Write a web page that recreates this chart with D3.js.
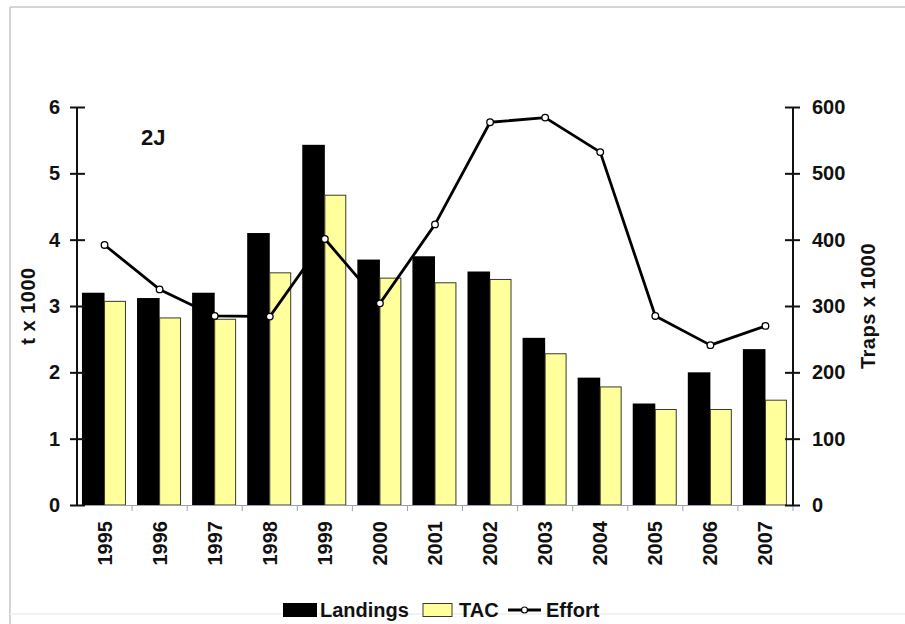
<!DOCTYPE html>
<html>
<head>
<meta charset="utf-8">
<script src="https://cdn.jsdelivr.net/npm/d3@7/dist/d3.min.js"></script>
<style>
  html, body { margin: 0; padding: 0; background: #fff; }
  svg text { font-family: "Liberation Sans", Arial, sans-serif; font-weight: bold; fill: #111; }
</style>
</head>
<body>
<svg id="chart" width="905" height="624"></svg>
<script>
// Snow crab division 2J: landings and TAC (t x 1000), trap effort (traps x 1000)
const years = ["1995","1996","1997","1998","1999","2000","2001","2002","2003","2004","2005","2006","2007"];
const landings = [3.2, 3.12, 3.2, 4.1, 5.43, 3.7, 3.75, 3.52, 2.52, 1.92, 1.53, 2.0, 2.35];
const tac      = [3.07, 2.82, 2.8, 3.5, 4.67, 3.42, 3.35, 3.4, 2.28, 1.78, 1.44, 1.44, 1.58];
const effort   = [392, 325, 285, 284, 401, 304, 423, 577, 584, 532, 285, 241, 270];
const leftTicks  = [0, 1, 2, 3, 4, 5, 6];
const rightTicks = [0, 100, 200, 300, 400, 500, 600];

const svg = d3.select("#chart");

// frame
svg.append("line").attr("x1", 10).attr("x2", 905).attr("y1", 7).attr("y2", 7)
  .attr("stroke", "#d4d4d4").attr("stroke-width", 2);
svg.append("line").attr("x1", 10).attr("x2", 10).attr("y1", 7).attr("y2", 624)
  .attr("stroke", "#d4d4d4").attr("stroke-width", 2);
svg.append("line").attr("x1", 10).attr("x2", 905).attr("y1", 614).attr("y2", 614)
  .attr("stroke", "#f2f2f2").attr("stroke-width", 2);

const xL = 77, xR = 793, yTop = 107, yBot = 505;
const fs = 20;

const x = d3.scaleBand().domain(years).range([xL, xR]).paddingInner(0).paddingOuter(0);
const yL = d3.scaleLinear().domain([0, 6]).range([yBot, yTop]);
const yR = d3.scaleLinear().domain([0, 600]).range([yBot, yTop]);
const bw = x.bandwidth();

// bars
svg.append("g").selectAll("rect").data(years).join("rect")
  .attr("x", (d) => x(d) + bw * 0.09)
  .attr("width", bw * 0.41)
  .attr("y", (d, i) => yL(landings[i]))
  .attr("height", (d, i) => yBot - yL(landings[i]))
  .attr("fill", "#000");

svg.append("g").selectAll("rect").data(years).join("rect")
  .attr("x", (d) => x(d) + bw * 0.5)
  .attr("width", bw * 0.38)
  .attr("y", (d, i) => yL(tac[i]))
  .attr("height", (d, i) => yBot - yL(tac[i]))
  .attr("fill", "#ffff9c").attr("stroke", "#3a3a2a").attr("stroke-width", 1);

// category axis: faint baseline with boundary ticks
svg.append("line").attr("x1", xL).attr("x2", xR).attr("y1", yBot + 0.5).attr("y2", yBot + 0.5)
  .attr("stroke", "#9aa0b0").attr("stroke-width", 1);
svg.append("g").selectAll("line").data(years.slice(1).concat(["end"])).join("line")
  .attr("x1", (d, i) => i < years.length - 1 ? x(d) : xR)
  .attr("x2", (d, i) => i < years.length - 1 ? x(d) : xR)
  .attr("y1", yBot).attr("y2", yBot + 6)
  .attr("stroke", "#9aa0b0").attr("stroke-width", 1);

svg.append("g").selectAll("text").data(years).join("text")
  .attr("transform", (d) => `translate(${x(d) + bw / 2 + 7},${yBot + 16}) rotate(-90)`)
  .attr("text-anchor", "end")
  .attr("font-size", fs)
  .text((d) => d);

// left axis
const gL = svg.append("g").attr("transform", `translate(${xL},0)`)
  .call(d3.axisLeft(yL).tickValues(leftTicks).tickFormat(d3.format("d")).tickSize(7).tickPadding(10));
gL.select(".domain").attr("stroke", "#111").attr("stroke-width", 2).attr("d", `M0,${yBot}V${yTop}`);
gL.selectAll(".tick line").attr("x1", -7).attr("x2", 8).attr("stroke", "#111").attr("stroke-width", 2);
gL.selectAll(".tick text").attr("font-size", fs).attr("fill", "#111")
  .attr("font-family", "Liberation Sans, Arial, sans-serif").attr("font-weight", "bold");

// right axis
const gR = svg.append("g").attr("transform", `translate(${xR},0)`)
  .call(d3.axisRight(yR).tickValues(rightTicks).tickFormat(d3.format("d")).tickSize(7).tickPadding(12));
gR.select(".domain").attr("stroke", "#111").attr("stroke-width", 2).attr("d", `M0,${yBot}V${yTop}`);
gR.selectAll(".tick line").attr("x1", -8).attr("x2", 7).attr("stroke", "#111").attr("stroke-width", 2);
gR.selectAll(".tick text").attr("font-size", fs).attr("fill", "#111")
  .attr("font-family", "Liberation Sans, Arial, sans-serif").attr("font-weight", "bold");

// axis titles
svg.append("text").attr("transform", "translate(35,306) rotate(-90)")
  .attr("text-anchor", "middle").attr("font-size", fs).attr("letter-spacing", 0.5).text("t x 1000");
svg.append("text").attr("transform", "translate(875,306) rotate(-90)")
  .attr("text-anchor", "middle").attr("font-size", fs).attr("letter-spacing", 0.5).text("Traps x 1000");

// effort line
const line = d3.line().x((d, i) => x(years[i]) + bw / 2).y((d) => yR(d));
svg.append("path").datum(effort).attr("d", line)
  .attr("fill", "none").attr("stroke", "#000").attr("stroke-width", 2.8).attr("stroke-linejoin", "round");
svg.append("g").selectAll("circle").data(effort).join("circle")
  .attr("cx", (d, i) => x(years[i]) + bw / 2).attr("cy", (d) => yR(d)).attr("r", 3.3)
  .attr("fill", "#fff").attr("stroke", "#000").attr("stroke-width", 1.3);

// panel label
svg.append("text").attr("x", 141).attr("y", 145).attr("font-size", 22).text("2J");

// legend
const lg = svg.append("g");
lg.append("rect").attr("x", 283).attr("y", 603).attr("width", 34).attr("height", 14).attr("fill", "#000");
lg.append("text").attr("x", 320).attr("y", 617).attr("font-size", fs).text("Landings");
lg.append("rect").attr("x", 423).attr("y", 603.5).attr("width", 29).attr("height", 13)
  .attr("fill", "#ffff9c").attr("stroke", "#3a3a2a").attr("stroke-width", 1);
lg.append("text").attr("x", 459).attr("y", 617).attr("font-size", fs).text("TAC");
lg.append("line").attr("x1", 508).attr("x2", 541).attr("y1", 610).attr("y2", 610)
  .attr("stroke", "#000").attr("stroke-width", 2.8);
lg.append("circle").attr("cx", 524.5).attr("cy", 610).attr("r", 3)
  .attr("fill", "#fff").attr("stroke", "#000").attr("stroke-width", 1.2);
lg.append("text").attr("x", 546).attr("y", 617).attr("font-size", fs).text("Effort");
</script>
</body>
</html>
